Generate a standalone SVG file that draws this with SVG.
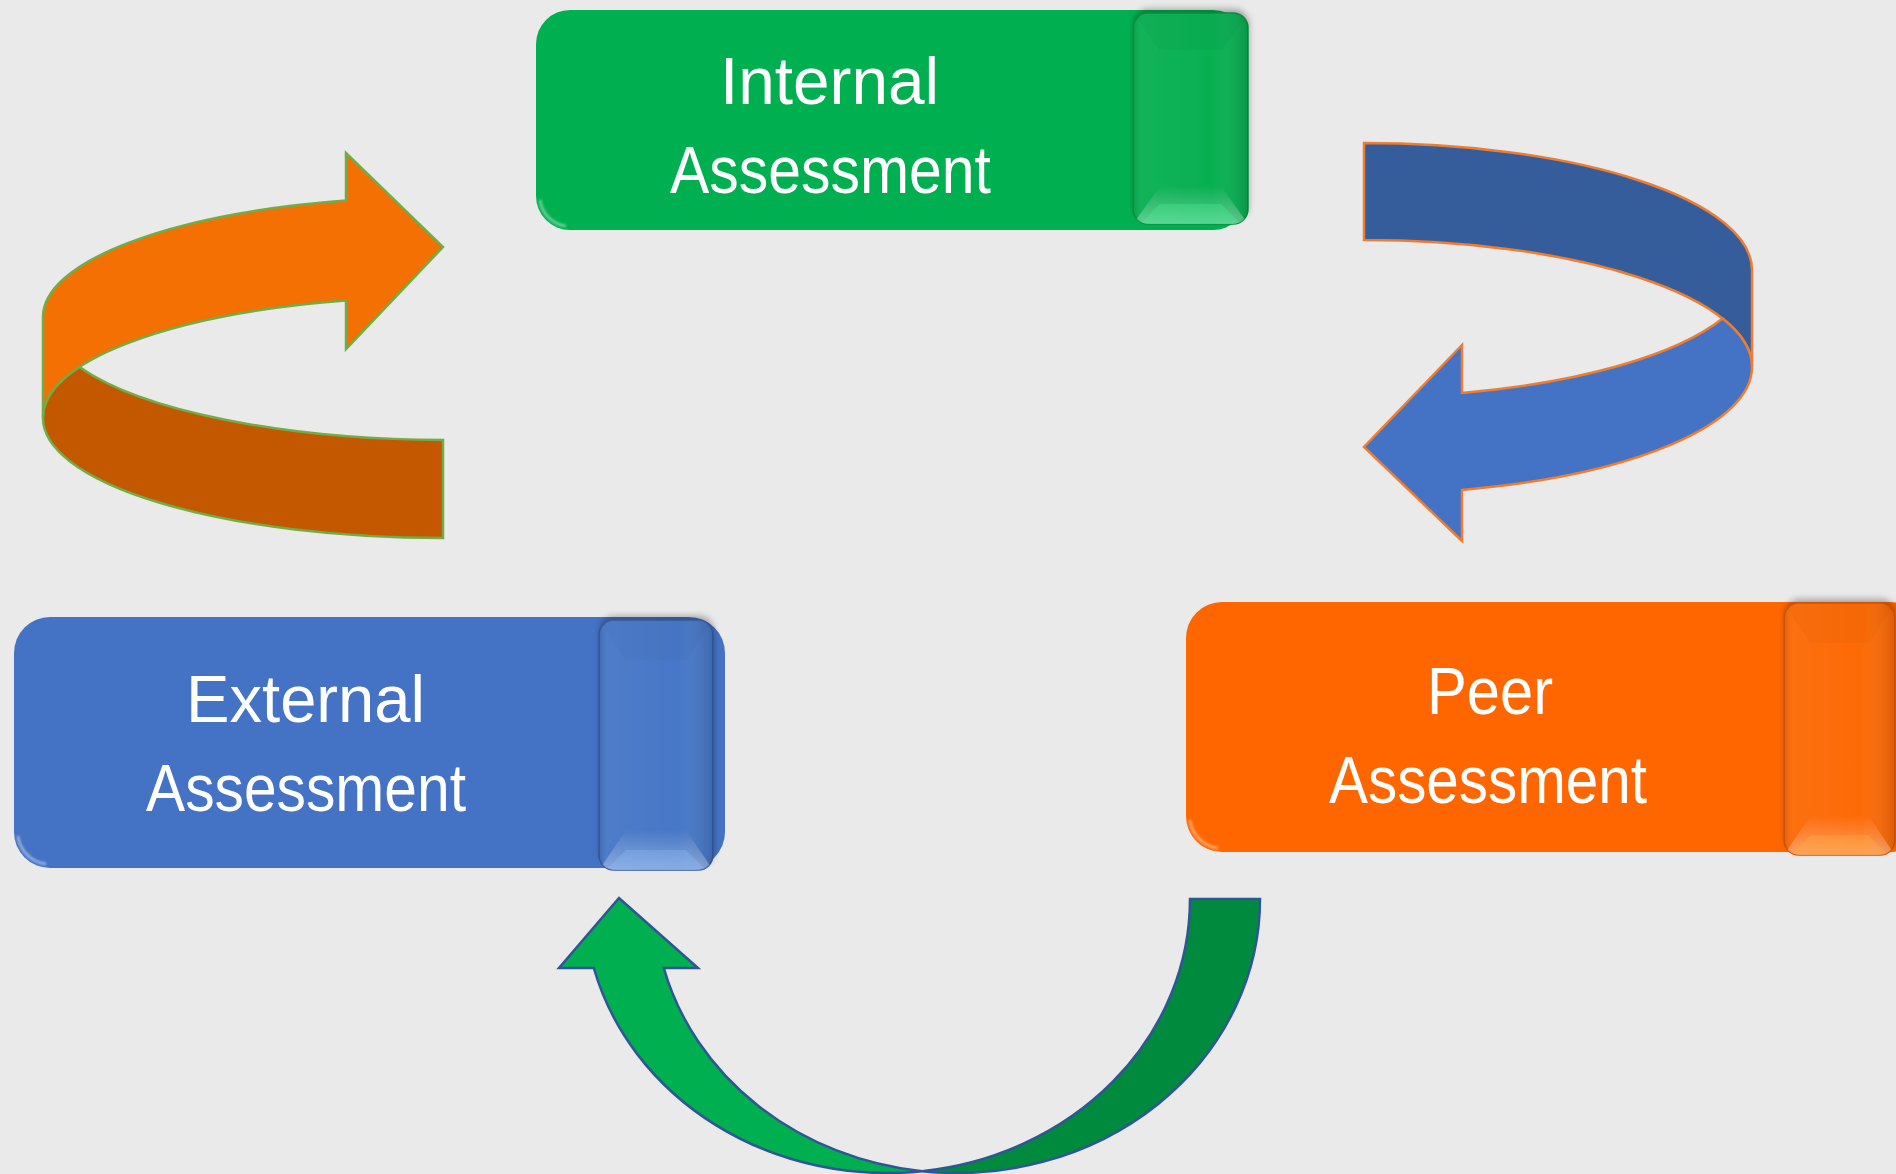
<svg xmlns="http://www.w3.org/2000/svg" width="1896" height="1174" viewBox="0 0 1896 1174">
  <defs>
    <style>
      .label { font-family: "Liberation Sans", Arial, sans-serif; font-size: 66px; fill: #FFFFFF; }
      .arrow-orange { stroke: #70AD47; stroke-width: 2.5; stroke-linejoin: miter; }
      .arrow-blue { stroke: #ED7D31; stroke-width: 2.5; stroke-linejoin: miter; }
      .arrow-green { stroke: #2F5597; stroke-width: 2.5; stroke-linejoin: miter; }
      .cap-shade { fill: url(#capShade); }
      .cap-top { fill: #000000; fill-opacity: 0.025; }
      .corner-glint { fill: none; stroke: #FFFFFF; stroke-opacity: 0.4; stroke-width: 3; filter: url(#soft1); }
    </style>
    <filter id="blur3" x="-30%" y="-30%" width="160%" height="160%">
      <feGaussianBlur stdDeviation="3"/>
    </filter>
    <filter id="soft1" x="-30%" y="-30%" width="160%" height="160%">
      <feGaussianBlur stdDeviation="1.2"/>
    </filter>
    <linearGradient id="capShade" x1="0" y1="0" x2="1" y2="0">
      <stop offset="0" stop-color="#000000" stop-opacity="0.10"/>
      <stop offset="0.08" stop-color="#FFFFFF" stop-opacity="0.04"/>
      <stop offset="0.7" stop-color="#FFFFFF" stop-opacity="0"/>
      <stop offset="1" stop-color="#000000" stop-opacity="0.14"/>
    </linearGradient>
    <linearGradient id="capGlow" x1="0" y1="0" x2="0" y2="1">
      <stop offset="0" stop-color="#FFFFFF" stop-opacity="0"/>
      <stop offset="1" stop-color="#FFFFFF" stop-opacity="0.34"/>
    </linearGradient>
    <clipPath id="clipCapG"><rect x="1133" y="13" width="115" height="211" rx="15"/></clipPath>
    <clipPath id="clipCapB"><rect x="599" y="620" width="114" height="250" rx="15"/></clipPath>
    <clipPath id="clipCapO"><rect x="1784" y="603" width="111" height="252" rx="15"/></clipPath>
  </defs>

  <rect x="0" y="0" width="1896" height="1174" fill="#EAEAEA"/>

  <g id="connectors">
    <g id="arrow-orange" class="arrow-orange">
      <path fill="#C45800" d="M 43,417 A 400 120 0 0 0 443,538 L 443,440 A 400 120 0 0 1 79.4,367 A 400 120 0 0 0 43,417 Z"/>
      <path fill="#F47003" d="M 346,200.6 A 400 120 0 0 0 43,317 L 43,417 A 400 120 0 0 1 346,300.6 L 346,349 L 443,247 L 346,153 Z"/>
    </g>
    <g id="arrow-blue" class="arrow-blue">
      <path fill="#355D9C" d="M 1364,143 A 388 127 0 0 1 1752,270 L 1752,367 A 388 127 0 0 0 1364,240 Z"/>
      <path fill="#4472C4" d="M 1752,367 A 388 127 0 0 0 1722.6,318.5 A 388 127 0 0 1 1462,392.9 L 1462,345 L 1364,447 L 1462,541 L 1462,489.9 A 388 127 0 0 0 1752,367 Z"/>
    </g>
    <g id="arrow-green" class="arrow-green">
      <path fill="#008A3E" d="M 922,1171.2 A 303 274 0 0 0 1260,899 L 1190,899 A 303 274 0 0 1 922,1171.2 Z"/>
      <path fill="#00AF4F" d="M 922,1171.2 A 303 274 0 0 1 593.8,968 L 559,968 L 619,898 L 698,968 L 663.8,968 A 303 274 0 0 0 922,1171.2 Z"/>
    </g>
  </g>

  <g id="node-internal">
    <rect x="536" y="10" width="711" height="220" rx="34" fill="#00B050"/>
    <path class="corner-glint" d="M 540,200 A 30 30 0 0 0 566,226"/>
    <rect x="1134" y="9" width="115" height="211" rx="15" fill="#000000" fill-opacity="0.3" filter="url(#blur3)"/>
    <rect x="1133" y="13" width="115" height="211" rx="15" fill="#08B052" stroke="#06913F" stroke-width="1.5"/>
    <g clip-path="url(#clipCapG)">
      <rect class="cap-shade" x="1133" y="13" width="115" height="211"/>
      <polygon class="cap-top" points="1133,13 1248,13 1222,50 1159,50"/>
      <polygon fill="url(#capGlow)" points="1133,224 1160,186 1221,186 1248,224"/>
      <polygon fill="#4DF29A" fill-opacity="0.3" points="1140,224 1160,204 1221,204 1241,224"/>
    </g>
    <text class="label" x="720" y="104" textLength="219" lengthAdjust="spacingAndGlyphs">Internal</text>
    <text class="label" x="670" y="193" textLength="321" lengthAdjust="spacingAndGlyphs">Assessment</text>
  </g>

  <g id="node-external">
    <rect x="14" y="617" width="711" height="251" rx="36" fill="#4472C4"/>
    <path class="corner-glint" d="M 18,836 A 32 32 0 0 0 46,864"/>
    <rect x="600" y="616" width="114" height="250" rx="15" fill="#000000" fill-opacity="0.3" filter="url(#blur3)"/>
    <rect x="599" y="620" width="114" height="250" rx="15" fill="#4777C7" stroke="#345A9C" stroke-width="1.5"/>
    <g clip-path="url(#clipCapB)">
      <rect class="cap-shade" x="599" y="620" width="114" height="250"/>
      <polygon class="cap-top" points="599,620 713,620 687,660 625,660"/>
      <polygon fill="url(#capGlow)" points="599,870 626,830 686,830 713,870"/>
      <polygon fill="#8FC0FF" fill-opacity="0.3" points="606,870 626,850 686,850 706,870"/>
    </g>
    <text class="label" x="186" y="722" textLength="239" lengthAdjust="spacingAndGlyphs">External</text>
    <text class="label" x="146" y="811" textLength="320" lengthAdjust="spacingAndGlyphs">Assessment</text>
  </g>

  <g id="node-peer">
    <rect x="1186" y="602" width="740" height="250" rx="36" fill="#FF6600"/>
    <path class="corner-glint" d="M 1190,820 A 32 32 0 0 0 1218,848"/>
    <rect x="1785" y="599" width="111" height="252" rx="15" fill="#000000" fill-opacity="0.3" filter="url(#blur3)"/>
    <rect x="1784" y="603" width="111" height="252" rx="15" fill="#FC6A06" stroke="#D45500" stroke-width="1.5"/>
    <g clip-path="url(#clipCapO)">
      <rect class="cap-shade" x="1784" y="603" width="111" height="252"/>
      <polygon class="cap-top" points="1784,603 1895,603 1869,643 1810,643"/>
      <polygon fill="url(#capGlow)" points="1784,855 1811,815 1868,815 1895,855"/>
      <polygon fill="#FFB347" fill-opacity="0.3" points="1791,855 1811,835 1868,835 1888,855"/>
    </g>
    <text class="label" x="1427" y="714" textLength="126" lengthAdjust="spacingAndGlyphs">Peer</text>
    <text class="label" x="1329" y="803" textLength="318" lengthAdjust="spacingAndGlyphs">Assessment</text>
  </g>
</svg>
